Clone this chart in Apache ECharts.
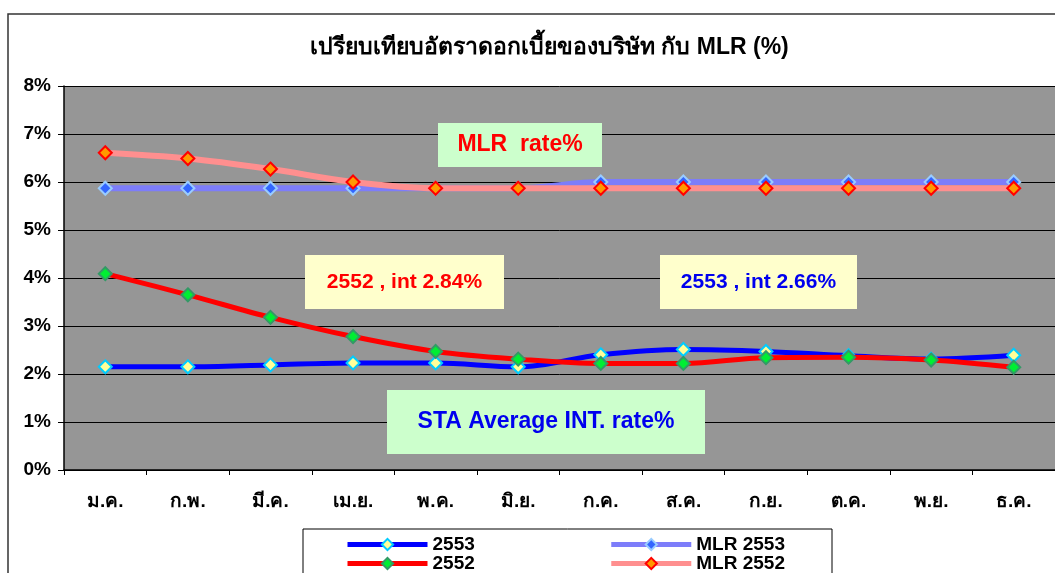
<!DOCTYPE html>
<html>
<head>
<meta charset="utf-8">
<script src="https://cdn.jsdelivr.net/npm/echarts@6/dist/echarts.min.js"></script>
<style>
  html, body { margin: 0; padding: 0; background: #fff; }
  #chart { width: 1055px; height: 573px; }
</style>
</head>
<body>
<div id="chart"></div>
<script>
var months = ['ม.ค.', 'ก.พ.', 'มี.ค.', 'เม.ย.', 'พ.ค.', 'มิ.ย.', 'ก.ค.', 'ส.ค.', 'ก.ย.', 'ต.ค.', 'พ.ย.', 'ธ.ค.'];
var rate2553 = [2.15, 2.15, 2.19, 2.23, 2.23, 2.15, 2.40, 2.51, 2.47, 2.38, 2.31, 2.39];
var rate2552 = [4.09, 3.65, 3.18, 2.78, 2.47, 2.31, 2.22, 2.22, 2.34, 2.35, 2.29, 2.14];
var mlr2553 = [5.87, 5.87, 5.87, 5.87, 5.87, 5.87, 6.00, 6.00, 6.00, 6.00, 6.00, 6.00];
var mlr2552 = [6.61, 6.49, 6.27, 6.00, 5.87, 5.87, 5.87, 5.87, 5.87, 5.87, 5.87, 5.87];

var FONT = '"Liberation Sans", Arial, sans-serif';

var myChart = echarts.init(document.getElementById('chart'));

// note box: coloured rectangle with centred bold text
function box(x, y, w, h, fill, text, color, size) {
    return [
        {
            type: 'rect',
            shape: {x: x, y: y, width: w, height: h},
            style: {fill: fill},
            z: 100
        },
        {
            type: 'text',
            x: x + w / 2,
            y: y + h / 2,
            style: {
                text: text,
                fill: color,
                font: 'bold ' + size + 'px ' + FONT,
                align: 'center',
                verticalAlign: 'middle'
            },
            z: 101
        }
    ];
}

var legendBase = {
    left: 345,
    padding: 0,
    itemWidth: 80,
    itemHeight: 14,
    itemGap: 134,
    lineStyle: {width: 5},
    textStyle: {fontFamily: FONT, fontSize: 19, fontWeight: 'bold', color: '#000'}
};

var option = {
    backgroundColor: '#ffffff',
    animation: false,
    title: {
        text: 'เปรียบเทียบอัตราดอกเบี้ยของบริษัท กับ MLR (%)',
        left: 305,
        top: 31,
        textStyle: {
            fontFamily: FONT,
            fontSize: 23,
            fontWeight: 'bold',
            color: '#000'
        }
    },
    legend: [
        Object.assign({}, legendBase, {top: 535, data: ['2553', 'MLR 2553']}),
        Object.assign({}, legendBase, {top: 554, data: ['2552', 'MLR 2552']})
    ],
    grid: {
        left: 64,
        right: -13,
        top: 86,
        bottom: 103,
        show: true,
        backgroundColor: '#969696',
        borderWidth: 0
    },
    xAxis: {
        type: 'category',
        boundaryGap: true,
        data: months,
        axisLine: {lineStyle: {color: '#000', width: 1.5}},
        axisTick: {show: true, length: 5, lineStyle: {color: '#000'}},
        axisLabel: {
            fontFamily: FONT,
            fontSize: 19,
            fontWeight: 'bold',
            color: '#000',
            margin: 22,
            interval: 0
        }
    },
    yAxis: {
        type: 'value',
        min: 0,
        max: 8,
        interval: 1,
        axisLine: {show: true, lineStyle: {color: '#000', width: 1.5}},
        axisTick: {show: true, length: 6, lineStyle: {color: '#000'}},
        axisLabel: {
            formatter: '{value}%',
            fontFamily: FONT,
            fontSize: 19,
            fontWeight: 'bold',
            color: '#000',
            margin: 13
        },
        splitLine: {lineStyle: {color: '#000', width: 1}}
    },
    series: [
        {
            name: '2553',
            type: 'line',
            data: rate2553,
            smooth: 0.35,
            symbol: 'diamond',
            symbolSize: 13,
            lineStyle: {color: '#0000ff', width: 5},
            itemStyle: {color: '#ffff99', borderColor: '#00ccff', borderWidth: 2},
            z: 4
        },
        {
            name: 'MLR 2553',
            type: 'line',
            data: mlr2553,
            smooth: 0.35,
            symbol: 'diamond',
            symbolSize: 13,
            lineStyle: {color: '#7d7dfa', width: 6},
            itemStyle: {color: '#3366ff', borderColor: '#99ccff', borderWidth: 2},
            z: 2
        },
        {
            name: '2552',
            type: 'line',
            data: rate2552,
            smooth: 0.35,
            symbol: 'diamond',
            symbolSize: 13,
            lineStyle: {color: '#ff0000', width: 5},
            itemStyle: {color: '#00ee33', borderColor: '#339966', borderWidth: 2},
            z: 5
        },
        {
            name: 'MLR 2552',
            type: 'line',
            data: mlr2552,
            smooth: 0.35,
            symbol: 'diamond',
            symbolSize: 13,
            lineStyle: {color: '#ff8f8f', width: 6},
            itemStyle: {color: '#ff9900', borderColor: '#ff0000', borderWidth: 2},
            z: 3
        }
    ],
    graphic: [
        {
            type: 'rect',
            shape: {x: 8, y: 14, width: 1100, height: 600},
            style: {fill: null, stroke: '#333', lineWidth: 1.5},
            silent: true,
            z: -1
        },
        {
            type: 'rect',
            shape: {x: 303, y: 529, width: 529, height: 60},
            style: {fill: '#fff', stroke: '#000', lineWidth: 1},
            silent: true,
            z: -1
        }
    ]
        .concat(box(438, 123, 164, 44, '#ccffcc', 'MLR  rate%', '#ff0000', 23))
        .concat(box(305, 255, 199, 54, '#ffffcc', '2552 , int 2.84%', '#ff0000', 21))
        .concat(box(660, 255, 197, 54, '#ffffcc', '2553 , int 2.66%', '#0000ee', 21))
        .concat(box(387, 390, 318, 64, '#ccffcc', 'STA Average INT. rate%', '#0000ee', 23))
};

myChart.setOption(option);
</script>
</body>
</html>
